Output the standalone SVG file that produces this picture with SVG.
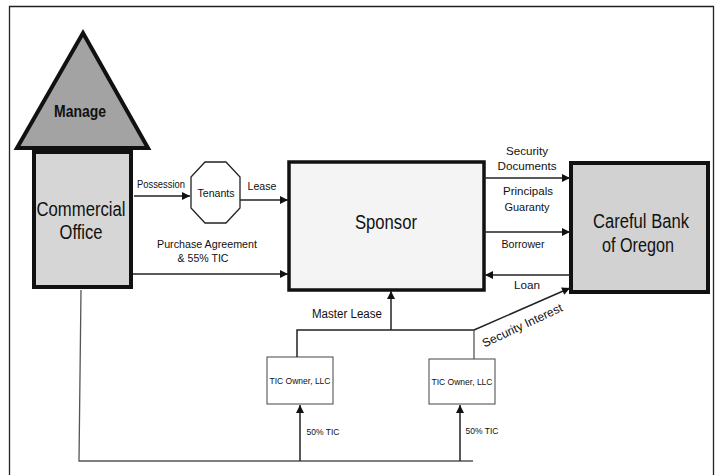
<svg xmlns="http://www.w3.org/2000/svg" width="719" height="475" viewBox="0 0 719 475">
<defs>
<marker id="ah" viewBox="0 0 10 10" refX="10" refY="5" markerWidth="9" markerHeight="8" markerUnits="userSpaceOnUse" orient="auto">
<path d="M0,0 L10,5 L0,10 Z" fill="#111"/>
</marker>
</defs>
<style>
text{font-family:"Liberation Sans",Arial,sans-serif;fill:#111;text-anchor:middle}
.big{font-size:19.5px}
.med{font-size:12.5px}
.sm{font-size:11.5px}
.xs{font-size:9.5px}
.thick{stroke:#111;stroke-width:4}
.conn{stroke:#222;stroke-width:1.5;fill:none}
.thin{stroke:#555;stroke-width:1.3;fill:none}
</style>
<rect width="719" height="475" fill="#fff"/>
<path d="M9.5,480 V6.5 H713.5 V480" fill="none" stroke="#222" stroke-width="1.3"/>
<g id="manage">
<polygon points="83,33 148,148 17,148" fill="#a3a3a3" class="thick"/>
<text x="80" y="117" style="font-size:16px;font-weight:bold" textLength="52" lengthAdjust="spacingAndGlyphs">Manage</text>
</g>
<g id="commercial-office">
<rect x="34" y="152" width="97" height="135" fill="#d6d6d6" class="thick"/>
<text x="81" y="216" class="big" textLength="89" lengthAdjust="spacingAndGlyphs">Commercial</text>
<text x="81" y="239" class="big" textLength="43" lengthAdjust="spacingAndGlyphs">Office</text>
</g>
<g id="tenants">
<polygon points="205,162 226,162 240,177 240,208 226,223 205,223 191,208 191,177" fill="#fff" stroke="#222" stroke-width="1.3"/>
<text x="216" y="197" class="sm" textLength="37" lengthAdjust="spacingAndGlyphs">Tenants</text>
</g>
<g id="sponsor">
<rect x="289" y="162" width="195" height="128" fill="#f4f4f4" stroke="#111" stroke-width="3.5"/>
<text x="386" y="229" class="big" textLength="62" lengthAdjust="spacingAndGlyphs">Sponsor</text>
</g>
<g id="bank">
<rect x="571" y="163" width="137" height="129" fill="#d2d2d2" class="thick"/>
<text x="641" y="228" class="big" textLength="96" lengthAdjust="spacingAndGlyphs">Careful Bank</text>
<text x="638" y="252" class="big" textLength="72" lengthAdjust="spacingAndGlyphs">of Oregon</text>
</g>
<g id="tic-owner-1">
<rect x="267" y="357" width="66" height="47" fill="#fff" stroke="#444" stroke-width="1"/>
<text x="300" y="384" class="xs" textLength="61" lengthAdjust="spacingAndGlyphs">TIC Owner, LLC</text>
</g>
<g id="tic-owner-2">
<rect x="429" y="359" width="66" height="45" fill="#fff" stroke="#444" stroke-width="1"/>
<text x="462" y="385" class="xs" textLength="61" lengthAdjust="spacingAndGlyphs">TIC Owner, LLC</text>
</g>
<g id="connectors">
<line x1="134" y1="196" x2="190" y2="196" class="conn" marker-end="url(#ah)"/>
<line x1="240" y1="200" x2="288" y2="200" class="conn" marker-end="url(#ah)"/>
<line x1="133" y1="274" x2="288" y2="274" class="conn" marker-end="url(#ah)"/>
<line x1="484" y1="178" x2="570" y2="178" class="conn" marker-end="url(#ah)"/>
<line x1="484" y1="232" x2="570" y2="232" class="conn" marker-end="url(#ah)"/>
<line x1="571" y1="275" x2="485" y2="275" class="conn" marker-end="url(#ah)"/>
<polyline points="297,357 297,330 474,330" class="conn"/>
<line x1="391" y1="330" x2="391" y2="291" class="conn" marker-end="url(#ah)"/>
<line x1="474" y1="359" x2="474" y2="330" class="thin"/>
<line x1="474" y1="330" x2="570" y2="288" class="conn" marker-end="url(#ah)"/>
<polyline points="81,290 79,461 473,461" class="thin"/>
<line x1="300" y1="461" x2="300" y2="405" class="conn" marker-end="url(#ah)"/>
<line x1="460" y1="461" x2="460" y2="405" class="conn" marker-end="url(#ah)"/>
</g>
<g id="labels">
<text x="161" y="188" class="sm" textLength="48" lengthAdjust="spacingAndGlyphs">Possession</text>
<text x="262" y="190" class="sm" textLength="29" lengthAdjust="spacingAndGlyphs">Lease</text>
<text x="207" y="248" class="sm" textLength="100" lengthAdjust="spacingAndGlyphs">Purchase Agreement</text>
<text x="203" y="262" class="sm" textLength="51" lengthAdjust="spacingAndGlyphs">&amp; 55% TIC</text>
<text x="527" y="155" class="sm" textLength="42" lengthAdjust="spacingAndGlyphs">Security</text>
<text x="527" y="170" class="sm" textLength="59" lengthAdjust="spacingAndGlyphs">Documents</text>
<text x="528" y="195" class="sm" textLength="50" lengthAdjust="spacingAndGlyphs">Principals</text>
<text x="527" y="211" class="sm" textLength="45" lengthAdjust="spacingAndGlyphs">Guaranty</text>
<text x="523" y="248" class="sm" textLength="43" lengthAdjust="spacingAndGlyphs">Borrower</text>
<text x="527" y="289" class="sm" textLength="26" lengthAdjust="spacingAndGlyphs">Loan</text>
<text x="347" y="318" class="med" textLength="70" lengthAdjust="spacingAndGlyphs">Master Lease</text>
<text x="0" y="0" style="font-size:12px" textLength="87" lengthAdjust="spacingAndGlyphs" transform="translate(524,329) rotate(-25)">Security Interest</text>
<text x="323" y="435" class="xs" textLength="33" lengthAdjust="spacingAndGlyphs">50% TIC</text>
<text x="482" y="434" class="xs" textLength="33" lengthAdjust="spacingAndGlyphs">50% TIC</text>
</g>
</svg>
